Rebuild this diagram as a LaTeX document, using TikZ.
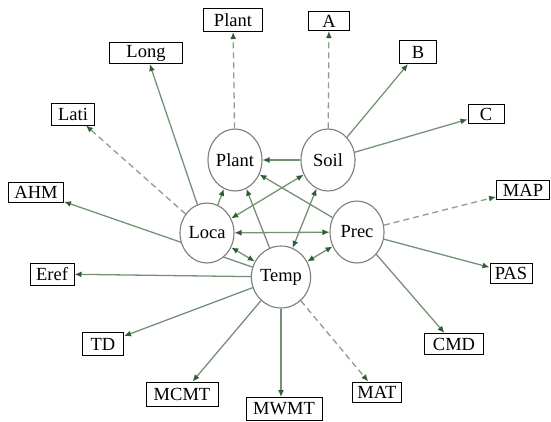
\documentclass[tikz,border=0pt]{standalone}
\usepackage{fontspec}
\setmainfont{Liberation Serif}
\usetikzlibrary{arrows.meta,shapes.geometric}
\pgfdeclarelayer{bg}
\pgfsetlayers{bg,main}
\definecolor{edgecol}{RGB}{118,146,118}
\definecolor{dashcol}{RGB}{140,158,140}
\definecolor{tipcol}{RGB}{45,95,50}
\definecolor{ellcol}{RGB}{125,125,125}
\begin{document}
\begin{tikzpicture}[x=1pt,y=-1pt,
  var/.style={ellipse,draw=ellcol,line width=1.1pt,fill=white,minimum width=54pt,minimum height=62pt,inner sep=0pt,font=\fontsize{18.5}{20}\selectfont},
  box/.style={rectangle,draw=black,line width=1pt,fill=white,inner sep=0pt,minimum height=21pt,font=\fontsize{18.5}{20}\selectfont},
  link/.style={draw=edgecol,line width=1.3pt,-{Latex[length=7pt,width=6pt,color=tipcol]}},
  both/.style={draw=edgecol,line width=1.3pt,{Latex[length=7pt,width=6pt,color=tipcol]}-{Latex[length=7pt,width=6pt,color=tipcol]}},
  dlink/.style={link,draw=dashcol,dash pattern=on 6pt off 4pt}]
\begin{pgfonlayer}{bg}
\fill[white] (0,0) rectangle (551,421);
\end{pgfonlayer}
\useasboundingbox (0,0) rectangle (551,421);

% latent variables
\node[var] (Plant) at (235,160) {Plant};
\node[var] (Soil)  at (328,160) {Soil};
\node[var,minimum height=60pt] (Loca)  at (207,233) {Loca};
\node[var] (Prec)  at (357,232) {Prec};
\node[var] (Temp)  at (281,277) {Temp};

% indicators
\node[box,minimum width=59pt,minimum height=23pt] (PlantB) at (233,20) {Plant};
\node[box,minimum width=73pt] (Long) at (146,53) {Long};
\node[box,minimum width=43pt,minimum height=22pt] (Lati) at (73,114) {Lati};
\node[box,minimum width=55pt,minimum height=20pt] (AHM) at (36,192) {AHM};
\node[box,minimum width=44pt,minimum height=22pt] (Eref) at (52,274) {Eref};
\node[box,minimum width=41pt,minimum height=23pt] (TD) at (103,344) {TD};
\node[box,minimum width=72pt,minimum height=24pt] (MCMT) at (182,394) {MCMT};
\node[box,minimum width=76pt,minimum height=23pt] (MWMT) at (284,409) {MWMT};
\node[box,minimum width=49pt,minimum height=20pt] (MAT) at (377,392) {MAT};
\node[box,minimum width=59pt] (CMD) at (454,344) {CMD};
\node[box,minimum width=42pt,minimum height=20pt] (PAS) at (511,273) {PAS};
\node[box,minimum width=53pt,minimum height=19pt] (MAP) at (523,190) {MAP};
\node[box,minimum width=41pt,minimum height=19pt] (A) at (329,21) {A};
\node[box,minimum width=37pt,minimum height=23pt] (B) at (418,52) {B};
\node[box,minimum width=36pt,minimum height=19pt] (C) at (486,114) {C};

\begin{pgfonlayer}{bg}
% outer links
\draw[dlink] (Plant) -- (PlantB);
\draw[dlink] (Soil) -- (A);
\draw[link] (Soil) -- (B);
\draw[link] (Soil) -- (C);
\draw[dlink] (Prec) -- (MAP);
\draw[link] (Prec) -- (PAS);
\draw[link] (Prec) -- (CMD);
\draw[dlink] (Temp) -- (MAT);
\draw[link] (Temp.south) -- (Temp.south |- MWMT.north);
\draw[link] (Temp) -- (MCMT);
\draw[link] (Temp) -- (TD);
\draw[link] (Temp) -- (Eref);
\draw[link] (Temp) -- (AHM);
\draw[dlink] (Loca) -- (Lati);
\draw[link] (Loca) -- (Long);
% inner links
\draw[link] (Soil) -- (Plant);
\draw[link] (Loca) -- (Plant);
\draw[link] (Temp) -- (Plant);
\draw[link] (Prec) -- (Plant);
\draw[both] (Soil) -- (Loca);
\draw[both] (Soil) -- (Temp);
\draw[both] (Loca) -- (Prec);
\draw[both] (Loca) -- (Temp);
\draw[both] (Prec) -- (Temp);
\end{pgfonlayer}
\end{tikzpicture}
\end{document}
